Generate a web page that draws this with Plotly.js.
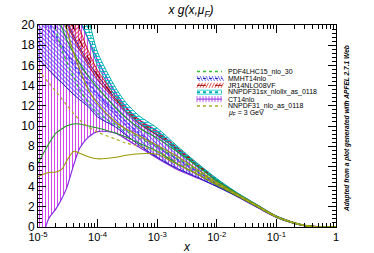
<!DOCTYPE html>
<html><head><meta charset="utf-8">
<script src="https://cdn.plot.ly/plotly-3.0.1.min.js"></script>
<style>html,body{margin:0;padding:0;background:#fff}</style>
</head><body><div id="chart" style="width:374px;height:253px"></div>
<script>
// x grid
const xGrid = [1e-5, 1.5e-5, 2e-5, 2.5e-5, 3e-5, 4e-5, 5e-5, 7e-5, 1e-4, 2e-4, 3e-4, 5e-4, 1e-3, 2e-3, 5e-3, 1e-2, 2e-2, 5e-2, 0.1, 0.2, 0.3, 0.5, 1];

// PDF4LHC15_nlo_30
const pdf4lhcHi = [27, 23.5, 21.0, 19.8, 18.6, 17.2, 16.2, 14.9, 13.8, 11.8, 10.8, 9.8, 8.8, 7.6, 5.9, 4.55, 3.45, 2.08, 1.07, 0.41, 0.155, 0.025, 0];
const pdf4lhcLo = [6.3, 8.2, 9.3, 9.7, 10.0, 10.2, 10.2, 10.0, 9.8, 9.3, 8.9, 8.3, 7.5, 6.4, 5.15, 4.15, 3.22, 1.95, 0.97, 0.36, 0.13, 0.018, 0];
const pdf4lhcCv = [23.5, 21.5, 19.5, 17.6, 16.4, 14.8, 13.6, 12.3, 11.3, 10.1, 9.5, 8.8, 7.9, 6.9, 5.5, 4.35, 3.33, 2.01, 1.02, 0.385, 0.142, 0.022, 0];
// MMHT14nlo
const mmhtHi = [28, 25, 23, 21.6, 20.5, 18.9, 17.8, 16.3, 15.0, 12.7, 11.5, 10.3, 9.1, 7.8, 5.95, 4.6, 3.45, 2.07, 1.06, 0.41, 0.155, 0.025, 0];
const mmhtLo = [16.7, 15.6, 14.8, 14.3, 13.8, 13.1, 12.6, 11.9, 10.9, 9.9, 9.1, 8.1, 6.9, 5.9, 4.85, 4.0, 3.15, 1.88, 0.95, 0.355, 0.125, 0.016, 0];
const mmhtCv = [22, 20.2, 18.9, 18.0, 17.2, 16.0, 15.2, 14.1, 13.1, 11.4, 10.4, 9.3, 8.0, 6.85, 5.4, 4.3, 3.3, 1.98, 1.0, 0.38, 0.14, 0.02, 0];
// JR14NLO08VF
const jr14Hi = [30, 27, 25, 23.5, 22.5, 20.9, 19.6, 17.4, 15.5, 13.0, 11.8, 10.6, 9.4, 8.05, 6.15, 4.72, 3.5, 2.08, 1.06, 0.41, 0.15, 0.022, 0];
const jr14Lo = [27, 24, 22.3, 21.0, 20.2, 18.6, 17.5, 16.0, 14.6, 12.5, 11.4, 10.2, 9.1, 7.85, 6.0, 4.62, 3.44, 2.04, 1.04, 0.4, 0.145, 0.02, 0];
const jr14Cv = [28.5, 25.5, 23.6, 22.2, 21.3, 19.7, 18.5, 16.7, 15.05, 12.75, 11.6, 10.4, 9.25, 7.95, 6.07, 4.67, 3.47, 2.06, 1.05, 0.405, 0.147, 0.021, 0];
// NNPDF31sx_nlollx_as_0118
const nnsxHi = [38, 33, 30, 28, 26.5, 24.3, 22.8, 20.6, 17.3, 13.8, 12.3, 11.0, 9.8, 8.2, 6.2, 4.8, 3.55, 2.12, 1.08, 0.42, 0.16, 0.025, 0];
const nnsxLo = [35, 30.5, 27.5, 25.6, 24.2, 22.0, 20.6, 18.6, 16.0, 12.9, 11.5, 10.3, 9.2, 7.7, 5.9, 4.6, 3.43, 2.05, 1.04, 0.4, 0.15, 0.022, 0];
const nnsxCv = [36.5, 31.7, 28.7, 26.8, 25.3, 23.1, 21.7, 19.6, 16.6, 13.35, 11.9, 10.65, 9.5, 7.95, 6.05, 4.7, 3.49, 2.08, 1.06, 0.41, 0.155, 0.023, 0];
// CT14nlo
const ct14Hi = [33, 29, 26.5, 24.8, 23.5, 21.6, 20.4, 18.6, 16.5, 13.3, 11.9, 10.6, 9.5, 8.0, 6.0, 4.65, 3.5, 2.1, 1.08, 0.42, 0.16, 0.03, 0];
const ct14Lo = [-3, 0.8, 1.8, 2.8, 3.8, 6.2, 7.8, 8.9, 9.45, 9.3, 8.7, 7.9, 6.8, 5.8, 4.8, 4.05, 3.15, 1.88, 0.95, 0.35, 0.12, 0.015, 0];
const ct14Cv = [21, 19.5, 18.5, 17.8, 17.2, 16.3, 15.6, 14.4, 13.2, 11.1, 10.1, 9.1, 7.9, 6.75, 5.35, 4.3, 3.3, 1.98, 1.0, 0.38, 0.14, 0.02, 0];
// NNPDF31_nlo_as_0118
const nn31Hi = [32, 26, 23, 21, 19.6, 17.2, 15.6, 13.6, 12.2, 10.4, 9.7, 9.0, 8.1, 7.1, 5.6, 4.4, 3.4, 2.05, 1.05, 0.42, 0.16, 0.03, 0];
const nn31Lo = [5.0, 5.4, 5.45, 5.7, 6.5, 7.5, 7.3, 6.95, 6.75, 6.9, 7.1, 7.25, 7.2, 6.3, 5.15, 4.2, 3.25, 1.95, 0.98, 0.37, 0.13, 0.02, 0];
const nn31Cv = [15.6, 14.3, 13.4, 12.7, 12.1, 11.2, 10.6, 9.9, 9.4, 8.7, 8.3, 8.0, 7.5, 6.6, 5.35, 4.3, 3.3, 2.0, 1.02, 0.4, 0.15, 0.025, 0];

const legendNames = ['PDF4LHC15_nlo_30', 'MMHT14nlo', 'JR14NLO08VF', 'NNPDF31sx_nlollx_as_0118', 'CT14nlo', 'NNPDF31_nlo_as_0118'];
const xTickVals = [1e-5, 1e-4, 1e-3, 1e-2, 1e-1, 1];
const xTickText = ['10<sup>-5</sup>', '10<sup>-4</sup>', '10<sup>-3</sup>', '10<sup>-2</sup>', '10<sup>-1</sup>', '1'];

const FONT = 'Liberation Sans, Arial, sans-serif';
const traces = [];
function band(lo, hi, cv, edge, hatch, pat, cvColor, cvDash, w) {
  const lw = w || 1;
  traces.push({x: xGrid, y: lo, mode: 'lines', line: {color: edge, width: lw, shape: 'spline', smoothing: 0.8}, showlegend: false, hoverinfo: 'skip'});
  const t = {x: xGrid, y: hi, mode: 'lines', line: {color: edge, width: lw, shape: 'spline', smoothing: 0.8}, showlegend: false, hoverinfo: 'skip'};
  if (pat) {
    t.fill = 'tonexty';
    t.fillcolor = hatch;
    t.fillpattern = {shape: pat, fgcolor: hatch, bgcolor: 'rgba(255,255,255,0)', size: 3, solidity: 0.3};
  }
  traces.push(t);
  traces.push({x: xGrid, y: cv, mode: 'lines', line: {color: cvColor, width: 1.2, dash: cvDash, shape: 'spline', smoothing: 0.8}, showlegend: false, hoverinfo: 'skip'});
}
band(ct14Lo, ct14Hi, ct14Cv, '#8a2be2', '#cc33ee', '|', '#8a2be2', 'dot', 1.2);
band(mmhtLo, mmhtHi, mmhtCv, '#2020b0', '#4444ff', '\\', '#3333ff', 'dot', 1);
band(jr14Lo, jr14Hi, jr14Cv, '#bb0000', '#dd2222', '/', '#990000', 'dash', 0.8);
band(nnsxLo, nnsxHi, nnsxCv, '#00aaaa', '#00cccc', '-', '#00aaaa', 'dot', 1);
band(pdf4lhcLo, pdf4lhcHi, pdf4lhcCv, '#229922', null, null, '#33bb33', 'dot', 1.1);
band(nn31Lo, nn31Hi, nn31Cv, '#999900', null, null, '#aaaa22', 'dot', 1.1);

// legend (manual, layout positions)
const L = 38, R = 336, T = 25, B = 227;
const px = p => (p - L) / (R - L);
const py = p => (B - p) / (B - T);
const shapes = [];
const annotations = [];
const rowY = [71.5, 78.4, 85.3, 92.2, 99.1, 106.0, 112.9];
const sx0 = 197, sx1 = 222;
function seg(x0, y0, x1, y1, color, w, dash) {
  shapes.push({type: 'line', xref: 'paper', yref: 'paper', x0: px(x0), y0: py(y0), x1: px(x1), y1: py(y1), line: {color: color, width: w || 1, dash: dash || 'solid'}});
}
// PDF4LHC
seg(sx0, rowY[0], sx1, rowY[0], '#33bb33', 1.5, 'dot');
// MMHT
for (let i = 0; i < 9; i++) seg(sx0 + i * 3, rowY[1] - 2.5, sx0 + i * 3 + 2.5, rowY[1] + 2.5, '#4444ff', 0.8);
seg(sx0, rowY[1], sx1, rowY[1], '#2020b0', 1, 'dot');
// JR14
for (let i = 0; i < 9; i++) seg(sx0 + i * 3, rowY[2] + 2.5, sx0 + i * 3 + 2.5, rowY[2] - 2.5, '#dd2222', 0.8);
seg(sx0, rowY[2], sx1, rowY[2], '#990000', 1, 'dash');
// NNPDF31sx
seg(sx0, rowY[3] - 2, sx1, rowY[3] - 2, '#00cccc', 0.8);
seg(sx0, rowY[3] + 2, sx1, rowY[3] + 2, '#00cccc', 0.8);
seg(sx0, rowY[3], sx1, rowY[3], '#00aaaa', 2, 'dot');
// CT14
for (let i = 0; i < 9; i++) seg(sx0 + i * 3, rowY[4] - 3, sx0 + i * 3, rowY[4] + 3, '#aa33ee', 0.8);
seg(sx0, rowY[4], sx1, rowY[4], '#8a2be2', 1);
// NNPDF31
seg(sx0, rowY[5], sx1, rowY[5], '#aaaa22', 1.5, 'dot');
legendNames.forEach((n, i) => {
  annotations.push({xref: 'paper', yref: 'paper', x: px(226), y: py(rowY[i]), xanchor: 'left', yanchor: 'middle', text: n, showarrow: false, font: {family: FONT, size: 7, color: '#000'}});
});
annotations.push({xref: 'paper', yref: 'paper', x: px(226), y: py(rowY[6]), xanchor: 'left', yanchor: 'middle', text: '<i>μ</i><sub>F</sub> = 3 GeV', showarrow: false, font: {family: FONT, size: 7, color: '#000'}});
// axis title x
annotations.push({xref: 'paper', yref: 'paper', x: px(187), y: py(247), xanchor: 'center', yanchor: 'middle', text: '<i>x</i>', showarrow: false, font: {family: FONT, size: 12, color: '#000'}});
// side note
annotations.push({xref: 'paper', yref: 'paper', x: px(347), y: py(128), xanchor: 'center', yanchor: 'middle', textangle: -90, text: '<b><i>Adapted from a plot generated with APFEL 2.7.1 Web</i></b>', showarrow: false, font: {family: FONT, size: 6.6, color: '#000'}});

const minorX = [];
for (let d = -5; d < 0; d++) for (let k = 2; k <= 9; k++) minorX.push(k * Math.pow(10, d));

const layout = {
  width: 374, height: 253,
  margin: {l: L, r: 374 - R, t: T, b: 253 - B, pad: 0},
  paper_bgcolor: '#fff', plot_bgcolor: '#fff',
  font: {family: FONT, color: '#000'},
  showlegend: false,
  title: {text: '<i>x g(x,μ<sub>F</sub>)</i>', font: {family: FONT, size: 12, color: '#000'}, x: 191 / 374, xanchor: 'center', xref: 'container', y: 1 - 10 / 253, yanchor: 'middle', yref: 'container'},
  xaxis: {type: 'log', range: [-5, 0], tickmode: 'array', tickvals: xTickVals, ticktext: xTickText,
    ticks: 'inside', ticklen: 8, tickwidth: 1, tickcolor: '#000', showline: true, linecolor: '#000', linewidth: 1,
    mirror: 'ticks', showgrid: false, zeroline: false, tickfont: {family: FONT, size: 11, color: '#000'},
    minor: {tickmode: 'array', tickvals: minorX, ticks: 'inside', ticklen: 4, tickcolor: '#000', tickwidth: 1, showgrid: false}},
  yaxis: {range: [0, 20], tick0: 0, dtick: 2, ticks: 'inside', ticklen: 8, tickwidth: 1, tickcolor: '#000',
    showline: true, linecolor: '#000', linewidth: 1, mirror: 'ticks', showgrid: false, zeroline: false,
    tickfont: {family: FONT, size: 12, color: '#000'},
    minor: {dtick: 0.4, ticks: 'inside', ticklen: 4, tickcolor: '#000', tickwidth: 1, showgrid: false}},
  shapes: shapes, annotations: annotations
};
Plotly.newPlot('chart', traces, layout, {displayModeBar: false, staticPlot: true});
</script></body></html>
